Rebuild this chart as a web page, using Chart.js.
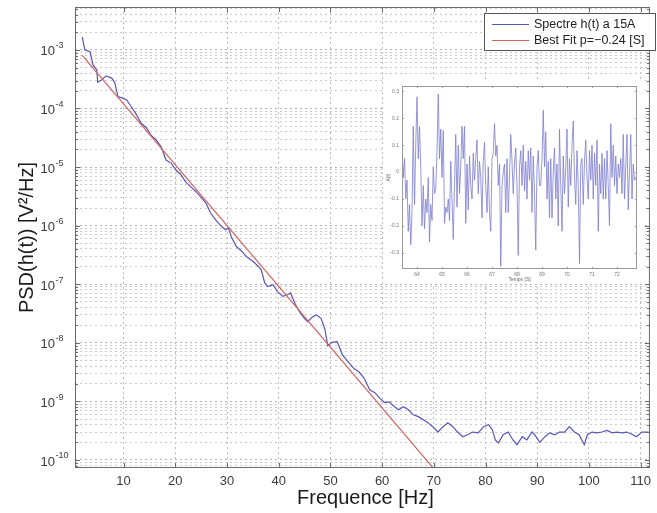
<!DOCTYPE html>
<html>
<head>
<meta charset="utf-8">
<script src="https://cdn.jsdelivr.net/npm/chart.js@4.4.0/dist/chart.umd.min.js"></script>
<style>
  html, body { margin: 0; padding: 0; background: #fff; }
  #wrap { position: relative; width: 657px; height: 513px; }
  #inset { position: absolute; left: 383px; top: 80px; }
</style>
</head>
<body>
<div id="wrap">
  <canvas id="main" width="657" height="513"></canvas>
  <canvas id="inset" width="260" height="204"></canvas>
</div>
<script>
/**
 * Spectrum data.
 */
const freq = [2.0, 2.5, 3.5, 4.1, 4.8, 5.0, 5.8, 6.6, 7.7, 8.3, 8.9, 9.8, 10.6, 11.5, 12.5, 13.4, 14.4,
  15.3, 16.3, 17.3, 18.2, 19.2, 20.1, 21.1, 22.0, 23.0, 24.0, 24.9, 25.9, 26.8, 27.8, 28.7, 29.7,
  30.3, 30.8, 31.8, 32.8, 33.7, 35.4, 36.6, 37.3, 37.9, 38.9, 39.8, 40.8, 41.7, 42.3, 43.1, 44.0,
  45.0, 45.6, 46.5, 47.3, 48.2, 48.9, 49.5, 50.3, 51.3, 52.3, 53.2, 54.6, 55.5, 56.5, 57.6, 58.6,
  59.5, 60.5, 61.4, 62.4, 63.2, 64.1, 65.1, 66.0, 67.0, 67.9, 68.9, 69.8, 70.8, 71.8, 72.7, 73.7,
  74.6, 75.6, 76.5, 77.5, 78.6, 79.6, 80.6, 81.3, 81.9, 82.5, 83.4, 84.4, 85.3, 86.1, 87.1, 88.0,
  89.0, 89.5, 90.5, 91.5, 92.4, 93.4, 94.3, 95.3, 96.2, 97.2, 98.1, 99.1, 99.7, 100.6, 101.6,
  102.5, 103.5, 104.5, 105.4, 106.4, 107.3, 108.3, 109.2, 110.2, 111.5];
const psd = [1.66e-3, 1.0e-3, 9.3e-4, 5.5e-4, 4.6e-4, 2.8e-4, 3.1e-4, 3.6e-4, 3.3e-4, 2.75e-4, 1.6e-4,
  1.5e-4, 1.4e-4, 1.07e-4, 7.8e-5, 5.6e-5, 4.7e-5, 3.5e-5, 2.9e-5, 2.2e-5, 1.32e-5, 1.17e-5, 8.9e-6,
  7.4e-6, 5.6e-6, 4.6e-6, 3.8e-6, 3.1e-6, 2.45e-6, 1.66e-6, 1.26e-6, 1.02e-6, 8.5e-7, 9.1e-7, 6.5e-7,
  4.4e-7, 3.7e-7, 3.0e-7, 2.3e-7, 1.78e-7, 1.05e-7, 9.1e-8, 9.8e-8, 7.4e-8, 6.2e-8, 6.6e-8, 7.1e-8,
  4.8e-8, 3.4e-8, 2.6e-8, 2.3e-8, 2.75e-8, 3.0e-8, 2.6e-8, 1.74e-8, 8.9e-9, 1.02e-8, 1.05e-8, 6.3e-9,
  5.0e-9, 3.6e-9, 3.2e-9, 2.5e-9, 1.58e-9, 1.41e-9, 1.15e-9, 9.5e-10, 9.8e-10, 8.1e-10, 7.2e-10,
  8.1e-10, 7.2e-10, 5.9e-10, 5.5e-10, 4.9e-10, 4.3e-10, 3.7e-10, 3.0e-10, 3.7e-10, 4.3e-10, 3.7e-10,
  3.0e-10, 2.5e-10, 2.7e-10, 3.0e-10, 2.9e-10, 3.7e-10, 4.0e-10, 3.3e-10, 2.2e-10, 1.95e-10, 2.7e-10,
  3.0e-10, 2.2e-10, 1.82e-10, 2.5e-10, 2.2e-10, 3.0e-10, 2.7e-10, 2.0e-10, 2.5e-10, 2.9e-10, 2.7e-10,
  3.0e-10, 3.0e-10, 3.7e-10, 3.0e-10, 2.7e-10, 1.82e-10, 2.7e-10, 3.0e-10, 2.9e-10, 3.0e-10, 3.2e-10,
  2.9e-10, 3.0e-10, 2.9e-10, 3.0e-10, 2.75e-10, 2.5e-10, 3.0e-10, 3.0e-10];

/**
 * Best fit line end points.
 */
const fitFreq = [2, 70];
const fitPsd = [8.1e-4, 7.1e-11];

/**
 * Axis ticks.
 */
const xTicks = [10, 20, 30, 40, 50, 60, 70, 80, 90, 100, 110];
const yDecades = [-10, -9, -8, -7, -6, -5, -4, -3];
const legendLabels = ['Spectre h(t) a 15A', 'Best Fit p=\u22120.24 [S]'];

/**
 * Inset time signal.
 */
const insetStart = 63.4;
const insetStep = 0.05;
const insetSignal = [
  0.08, -0.02, 0.05, -0.10, -0.03, -0.22, -0.12, -0.27, -0.15, 0.17,
  -0.12, 0.10, 0.28, 0.05, 0.17, 0.02, -0.20, -0.05, -0.21, -0.10,
  -0.15, -0.02, -0.26, -0.12, -0.18, 0.02, -0.08, -0.06, 0.08, 0.29,
  0.05, 0.16, -0.02, 0.155, -0.19, -0.13, -0.15, -0.10, -0.18, 0.04,
  -0.10, -0.25, -0.05, 0.14, -0.13, 0.10, -0.08, 0.02, 0.17, 0.05,
  0.17, -0.19, 0.03, -0.14, 0.06, -0.05, -0.10, 0.07, -0.03, 0.05,
  0.12, -0.08, 0.04, -0.02, -0.17, 0.04, 0.11, -0.05, -0.15, 0.02,
  -0.15, -0.22, 0.05, 0.07, 0.18, 0.06, 0.10, -0.05, 0.03, -0.35,
  -0.05, 0.00, 0.03, -0.15, 0.05, -0.15, -0.02, 0.14, 0.04, -0.08,
  0.03, 0.09, -0.05, -0.31, 0.02, 0.08, -0.05, 0.10, -0.07, 0.04,
  -0.10, 0.08, -0.03, 0.09, -0.15, 0.06, -0.08, -0.29, 0.02, 0.08,
  -0.05, -0.05, 0.05, 0.23, 0.02, 0.15, -0.10, 0.04, -0.17, 0.05,
  -0.17, 0.00, 0.09, -0.10, 0.03, -0.20, 0.16, -0.05, -0.22, 0.06,
  -0.08, 0.02, 0.16, -0.13, 0.05, -0.05, 0.10, 0.19, -0.02, -0.12,
  0.08, -0.05, -0.34, 0.03, 0.05, -0.12, 0.04, 0.12, -0.02, -0.10,
  0.08, -0.03, 0.10, -0.10, 0.07, -0.05, 0.12, -0.22, 0.03, -0.08,
  0.07, -0.10, 0.05, -0.10, 0.08, -0.05, -0.20, 0.18, -0.02, 0.10,
  -0.05, 0.06, -0.08, 0.03, -0.02, 0.05, -0.08, 0.14, -0.10, 0.02,
  0.14, -0.14, 0.00, 0.14, -0.10, 0.03, -0.03, -0.02, -0.03];
const insetXTicks = [64, 65, 66, 67, 68, 69, 70, 71, 72];
const insetYTicks = [-0.3, -0.2, -0.1, 0, 0.1, 0.2, 0.3];

const BLUE = '#5656bd';
const RED = '#d2635e';
const FONT = '"Liberation Sans", Arial, sans-serif';

/**
 * Log ticks: every mantissa 1..9 inside the range.
 */
const Y_MIN = 7.3e-11;
const Y_MAX = 5.4e-3;
const yTickValues = [];
for (let p = -11; p <= -3; p += 1) {
  for (let m = 1; m <= 9; m += 1) {
    const v = m * Math.pow(10, p);
    if (v >= Y_MIN && v <= Y_MAX) yTickValues.push(v);
  }
}
const isDecade = (v) => Math.abs(Math.log10(v) - Math.round(Math.log10(v))) < 1e-6;

/**
 * Main chart decorations: box, inward ticks, exponent labels, titles, legend.
 */
const mainDecor = {
  id: 'mainDecor',
  afterDraw(chart) {
    const { ctx, chartArea: a, scales: { x, y } } = chart;
    ctx.save();

    ctx.strokeStyle = '#6a6a6a';
    ctx.lineWidth = 1;
    ctx.strokeRect(a.left + 0.5, a.top + 0.5, a.right - a.left - 1, a.bottom - a.top - 1);

    ctx.beginPath();
    xTicks.forEach((v) => {
      const px = Math.round(x.getPixelForValue(v)) + 0.5;
      ctx.moveTo(px, a.bottom); ctx.lineTo(px, a.bottom - 5);
      ctx.moveTo(px, a.top); ctx.lineTo(px, a.top + 5);
    });
    yTickValues.forEach((v) => {
      const py = Math.round(y.getPixelForValue(v)) + 0.5;
      const len = isDecade(v) ? 5 : 3;
      ctx.moveTo(a.left, py); ctx.lineTo(a.left + len, py);
      ctx.moveTo(a.right, py); ctx.lineTo(a.right - len, py);
    });
    ctx.stroke();

    // y tick labels as 10 with raised exponent
    ctx.fillStyle = '#3a3a3a';
    ctx.textBaseline = 'middle';
    yDecades.forEach((p) => {
      const py = y.getPixelForValue(Math.pow(10, p));
      ctx.font = `13px ${FONT}`;
      ctx.textAlign = 'right';
      ctx.fillText('10', 55, py + 2);
      ctx.font = `9px ${FONT}`;
      ctx.textAlign = 'left';
      ctx.fillText(String(p), 55.5, py - 4);
    });

    // axis titles
    ctx.fillStyle = '#1a1a1a';
    ctx.font = `20px ${FONT}`;
    ctx.textAlign = 'center';
    ctx.fillText('Frequence [Hz]', (a.left + a.right) / 2 + 3, 498);
    ctx.save();
    ctx.translate(27, (a.top + a.bottom) / 2);
    ctx.rotate(-Math.PI / 2);
    ctx.fillText('PSD(h(t)) [V\u00b2/Hz]', 0, 0);
    ctx.restore();

    // legend
    ctx.fillStyle = '#fff';
    ctx.fillRect(484.5, 13.5, 171, 37);
    ctx.strokeStyle = '#555';
    ctx.strokeRect(484.5, 13.5, 171, 37);
    [BLUE, RED].forEach((c, i) => {
      const ly = 24.5 + i * 16;
      ctx.strokeStyle = c;
      ctx.lineWidth = 1.2;
      ctx.beginPath(); ctx.moveTo(492, ly); ctx.lineTo(529, ly); ctx.stroke();
      ctx.fillStyle = '#222';
      ctx.font = `12.5px ${FONT}`;
      ctx.textAlign = 'left';
      ctx.fillText(legendLabels[i], 534, ly + 0.5);
    });

    ctx.restore();
  },
};

new Chart(document.getElementById('main').getContext('2d'), {
  type: 'line',
  data: {
    datasets: [
      {
        label: legendLabels[0],
        data: freq.map((f, i) => ({ x: f, y: psd[i] })),
        borderColor: BLUE,
        borderWidth: 1.2,
        pointRadius: 0,
        order: 2,
      },
      {
        label: legendLabels[1],
        data: fitFreq.map((f, i) => ({ x: f, y: fitPsd[i] })),
        borderColor: RED,
        borderWidth: 1.2,
        pointRadius: 0,
        order: 1,
      },
    ],
  },
  options: {
    responsive: false,
    animation: false,
    devicePixelRatio: 1,
    layout: { padding: { left: 0, right: 1, top: 7, bottom: 0 } },
    plugins: { legend: { display: false }, tooltip: { enabled: false } },
    scales: {
      x: {
        type: 'linear',
        min: 0.6,
        max: 111.8,
        afterBuildTicks: (scale) => { scale.ticks = xTicks.map((v) => ({ value: v })); },
        afterFit: (scale) => { scale.height = 45; },
        grid: { color: '#bcbcbc', drawTicks: false },
        border: { display: false, dash: [2, 3] },
        ticks: { color: '#3a3a3a', font: { size: 13, family: FONT }, padding: 6, maxRotation: 0 },
      },
      y: {
        type: 'logarithmic',
        min: Y_MIN,
        max: Y_MAX,
        afterBuildTicks: (scale) => { scale.ticks = yTickValues.map((v) => ({ value: v })); },
        afterFit: (scale) => { scale.width = 75; },
        grid: {
          color: (c) => (isDecade(c.tick.value) ? '#b4b4b4' : '#cbcbcb'),
          drawTicks: false,
        },
        border: { display: false, dash: [2, 3] },
        ticks: { display: false },
      },
    },
  },
  plugins: [mainDecor],
});

/**
 * Inset chart decorations.
 */
const insetDecor = {
  id: 'insetDecor',
  beforeDraw(chart) {
    const { ctx, width, height } = chart;
    ctx.save();
    ctx.fillStyle = '#fff';
    ctx.fillRect(0, 0, width, height);
    ctx.restore();
  },
  afterDraw(chart) {
    const { ctx, chartArea: a, scales: { x, y } } = chart;
    ctx.save();
    ctx.strokeStyle = '#9a9a9a';
    ctx.lineWidth = 1;
    ctx.strokeRect(a.left + 0.5, a.top + 0.5, a.right - a.left - 1, a.bottom - a.top - 1);
    ctx.beginPath();
    insetXTicks.forEach((v) => {
      const px = Math.round(x.getPixelForValue(v)) + 0.5;
      ctx.moveTo(px, a.bottom); ctx.lineTo(px, a.bottom - 2);
      ctx.moveTo(px, a.top); ctx.lineTo(px, a.top + 2);
    });
    insetYTicks.forEach((v) => {
      const py = Math.round(y.getPixelForValue(v)) + 0.5;
      ctx.moveTo(a.left, py); ctx.lineTo(a.left + 2, py);
      ctx.moveTo(a.right, py); ctx.lineTo(a.right - 2, py);
    });
    ctx.stroke();
    ctx.fillStyle = '#666';
    ctx.font = `5px ${FONT}`;
    ctx.textAlign = 'center';
    ctx.textBaseline = 'middle';
    ctx.fillText('Temps [S]', (a.left + a.right) / 2, 200);
    ctx.save();
    ctx.translate(6, (a.top + a.bottom) / 2);
    ctx.rotate(-Math.PI / 2);
    ctx.fillText('A(t)', 0, 0);
    ctx.restore();
    ctx.restore();
  },
};

new Chart(document.getElementById('inset').getContext('2d'), {
  type: 'line',
  data: {
    datasets: [{
      data: insetSignal.map((v, i) => ({ x: insetStart + i * insetStep, y: v })),
      borderColor: '#7c7cd0',
      borderWidth: 0.8,
      pointRadius: 0,
    }],
  },
  options: {
    responsive: false,
    animation: false,
    devicePixelRatio: 1,
    layout: { padding: { left: 0, right: 6, top: 5, bottom: 0 } },
    plugins: { legend: { display: false }, tooltip: { enabled: false } },
    scales: {
      x: {
        type: 'linear',
        min: 63.4,
        max: 72.8,
        afterBuildTicks: (scale) => { scale.ticks = insetXTicks.map((v) => ({ value: v })); },
        afterFit: (scale) => { scale.height = 15; },
        grid: { display: false, drawTicks: false },
        border: { display: false },
        ticks: { color: '#777', font: { size: 5, family: FONT }, padding: 3, maxRotation: 0 },
      },
      y: {
        type: 'linear',
        min: -0.36,
        max: 0.32,
        afterBuildTicks: (scale) => { scale.ticks = insetYTicks.map((v) => ({ value: v })); },
        afterFit: (scale) => { scale.width = 19; },
        grid: { display: false, drawTicks: false },
        border: { display: false },
        ticks: { color: '#777', font: { size: 5, family: FONT }, padding: 3 },
      },
    },
  },
  plugins: [insetDecor],
});
</script>
</body>
</html>
